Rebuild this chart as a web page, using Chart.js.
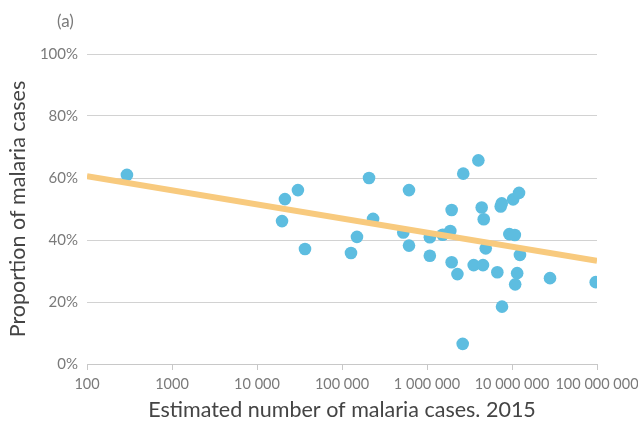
<!DOCTYPE html>
<html>
<head>
<meta charset="utf-8">
<script src="https://cdn.jsdelivr.net/npm/chart.js@4"></script>
<style>
  html, body { margin: 0; padding: 0; background: #fff; }
  #wrap { position: relative; width: 638px; height: 423px; }
</style>
</head>
<body>
<div id="wrap"><canvas id="chart" width="638" height="423"></canvas></div>
<script>
// estimated malaria cases (2015) vs proportion of malaria cases (%)
const cases = [
  295, 19700, 21300, 30300, 36700, 127600, 150000, 208000, 232000,
  526000, 614000, 614000, 1080000, 1080000, 1530000, 1880000, 1950000, 1950000,
  2280000, 2630000, 2670000, 3540000, 4020000, 4400000, 4560000, 4650000, 4910000,
  6720000, 7360000, 7570000, 7630000, 9300000, 10300000, 10800000, 12100000,
  10900000, 11500000, 12400000, 28000000, 96600000
];
const proportion = [
  61.0, 46.1, 53.2, 56.1, 37.1, 35.8, 41.0, 60.0, 46.8,
  42.4, 56.1, 38.2, 40.9, 34.9, 41.7, 42.9, 49.7, 32.8,
  29.0, 6.5, 61.4, 31.9, 65.7, 50.5, 31.9, 46.7, 37.3,
  29.6, 50.8, 51.8, 18.5, 41.9, 53.1, 41.6, 55.2,
  25.7, 29.3, 35.2, 27.7, 26.4
];
const trendX = [100, 100000000];
const trendY = [60.6, 33.3];

const xTickValues = [100, 1000, 10000, 100000, 1000000, 10000000, 100000000];
const xTickLabels = ['100', '1000', '10 000', '100 000', '1 000 000', '10 000 000', '100 000 000'];
const yTickValues = [0, 20, 40, 60, 80, 100];
const yTickLabels = ['0%', '20%', '40%', '60%', '80%', '100%'];

const tickColor = '#7a7a7a';
const fontFamily = 'Lato, "Noto Sans", sans-serif';

const panelLabel = {
  id: 'panelLabel',
  afterDraw(chart) {
    const ctx = chart.ctx;
    ctx.save();
    ctx.font = '17px ' + fontFamily;
    ctx.fillStyle = tickColor;
    ctx.textAlign = 'left';
    ctx.textBaseline = 'middle';
    ctx.fillText('(a)', 57, 22);
    ctx.restore();
  }
};

new Chart(document.getElementById('chart'), {
  type: 'scatter',
  data: {
    datasets: [
      {
        type: 'line',
        label: 'trend',
        data: trendX.map((x, i) => ({x: x, y: trendY[i]})),
        borderColor: '#f8ca7e',
        borderWidth: 6,
        pointRadius: 0,
        fill: false
      },
      {
        label: 'countries',
        data: cases.map((x, i) => ({x: x, y: proportion[i]})),
        backgroundColor: '#5dbde0',
        borderWidth: 0,
        pointRadius: 6.3,
        pointHoverRadius: 6.3
      }
    ]
  },
  options: {
    responsive: false,
    animation: false,
    layout: { padding: { top: 54, right: 41, left: 0, bottom: 0 } },
    plugins: { legend: { display: false }, tooltip: { enabled: false } },
    scales: {
      x: {
        type: 'logarithmic',
        min: 100,
        max: 100000000,
        afterBuildTicks: (scale) => { scale.ticks = xTickValues.map(v => ({value: v})); },
        afterFit: (scale) => {
          scale.height = 59;
          // let the last label hang past the plot edge
          scale.paddingLeft = 0;
          scale.paddingRight = 0;
        },
        grid: { drawOnChartArea: false, color: '#c8c8c8', tickLength: 6 },
        border: { color: '#c8c8c8' },
        ticks: {
          color: tickColor,
          font: { family: fontFamily, size: 14.5 },
          padding: 6,
          maxRotation: 0,
          autoSkip: false,
          callback: (v) => xTickLabels[xTickValues.indexOf(v)]
        },
        title: {
          display: true,
          text: 'Estimated number of malaria cases. 2015',
          color: '#444',
          font: { family: fontFamily, size: 21.5 },
          padding: { top: 0, bottom: 0 }
        }
      },
      y: {
        min: 0,
        max: 100,
        afterBuildTicks: (scale) => { scale.ticks = yTickValues.map(v => ({value: v})); },
        afterFit: (scale) => { scale.width = 87; },
        grid: { color: '#d2d2d2', drawTicks: false },
        border: { display: false },
        ticks: {
          color: tickColor,
          font: { family: fontFamily, size: 15 },
          padding: 9,
          callback: (v) => yTickLabels[yTickValues.indexOf(v)]
        },
        title: {
          display: true,
          text: 'Proportion of malaria cases',
          color: '#444',
          font: { family: fontFamily, size: 21.5 },
          padding: { top: 5, bottom: 0 }
        }
      }
    }
  },
  plugins: [panelLabel]
});
</script>
</body>
</html>
